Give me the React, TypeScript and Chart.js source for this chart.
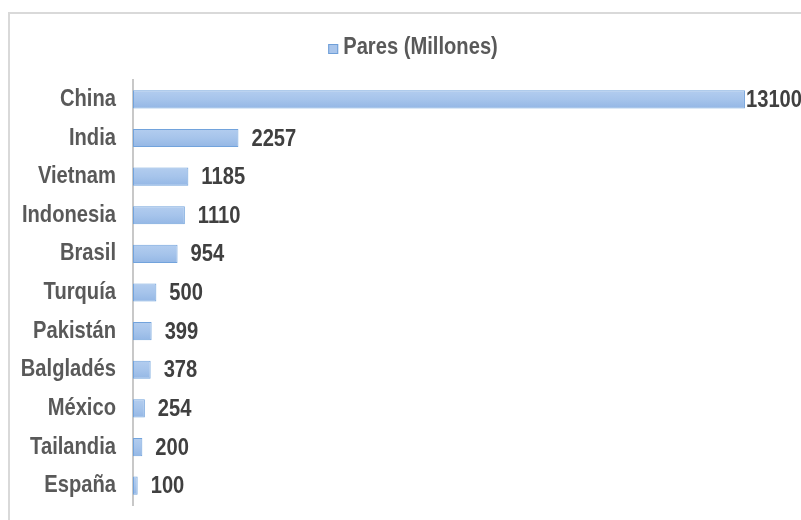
import React, { useEffect, useRef } from "react";
import { Chart, registerables } from "chart.js";

Chart.register(...registerables);

const categories = ["China", "India", "Vietnam", "Indonesia", "Brasil", "Turquía", "Pakistán", "Balgladés", "México", "Tailandia", "España"];
const values = [13100, 2257, 1185, 1110, 954, 500, 399, 378, 254, 200, 100];
const seriesName = "Pares (Millones)";

const FONT = "'Liberation Sans', Arial, sans-serif";
const SQUEEZE = 0.84;

function narrowText(ctx: CanvasRenderingContext2D, txt: string, x: number, y: number, align: "left" | "right") {
  const w = ctx.measureText(txt).width * SQUEEZE;
  const left = align === "left" ? x : x - w;
  ctx.save();
  ctx.translate(left, y);
  ctx.scale(SQUEEZE, 1);
  ctx.textAlign = "left";
  ctx.fillText(txt, 0, 0);
  ctx.restore();
  return w;
}

export default function App() {
  const ref = useRef<HTMLCanvasElement>(null);
  useEffect(() => {
    const canvas = ref.current!;
    const barFrac = 0.47;
    const grad = (c: any) => {
      const chart = c.chart;
      const ys = chart.scales?.y;
      if (!ys || typeof c.dataIndex !== "number") return "#a7c4ea";
      const yc = ys.getPixelForValue(c.dataIndex);
      const h = ((ys.bottom - ys.top) / categories.length) * barFrac;
      if (!isFinite(yc) || !isFinite(h) || h <= 0) return "#a7c4ea";
      const g = chart.ctx.createLinearGradient(0, yc - h / 2, 0, yc + h / 2);
      g.addColorStop(0, "#b3cdef");
      g.addColorStop(0.5, "#a6c4eb");
      g.addColorStop(1, "#94b7e5");
      return g;
    };
    const deco = {
      id: "deco",
      beforeDraw(chart: any) {
        const ctx = chart.ctx;
        ctx.save();
        ctx.fillStyle = "#ffffff";
        ctx.fillRect(0, 0, chart.width, chart.height);
        ctx.strokeStyle = "#d9d9d9";
        ctx.lineWidth = 2;
        ctx.beginPath();
        ctx.moveTo(9, chart.height);
        ctx.lineTo(9, 13);
        ctx.lineTo(chart.width, 13);
        ctx.stroke();
        // legend
        ctx.font = `bold 24px ${FONT}`;
        ctx.textBaseline = "middle";
        const tw = ctx.measureText(seriesName).width * SQUEEZE;
        const box = 10;
        const gap = 5;
        const total = box + gap + tw;
        const x0 = 413 - total / 2;
        const yMid = 47;
        ctx.fillStyle = "#a9c5eb";
        ctx.fillRect(x0, 44, box, box);
        ctx.strokeStyle = "#6f9fd8";
        ctx.lineWidth = 1;
        ctx.strokeRect(x0 + 0.5, 44.5, box - 1, box - 1);
        ctx.fillStyle = "#595959";
        narrowText(ctx, seriesName, x0 + box + gap, yMid, "left");
        ctx.restore();
      },
      afterDatasetsDraw(chart: any) {
        const ctx = chart.ctx;
        const meta = chart.getDatasetMeta(0);
        const ys = chart.scales.y;
        ctx.save();
        ctx.font = `bold 24px ${FONT}`;
        ctx.textBaseline = "middle";
        // category labels
        ctx.fillStyle = "#595959";
        categories.forEach((c, i) => {
          narrowText(ctx, c, ys.right - 17, ys.getPixelForValue(i), "right");
        });
        // data labels
        ctx.fillStyle = "#404040";
        meta.data.forEach((bar: any, i: number) => {
          const txt = String(values[i]);
          const w = ctx.measureText(txt).width * SQUEEZE;
          let x = bar.x + 13;
          if (x + w > chart.width) x = bar.x + 1;
          narrowText(ctx, txt, x, bar.y + 1, "left");
        });
        ctx.restore();
      },
    };
    const chart = new Chart(canvas, {
      type: "bar",
      data: {
        labels: categories,
        datasets: [
          {
            label: seriesName,
            data: values,
            backgroundColor: grad as any,
            borderColor: "#72a3dc",
            borderWidth: 1,
            borderSkipped: false,
            barPercentage: barFrac,
            categoryPercentage: 1,
          },
        ],
      },
      options: {
        indexAxis: "y",
        animation: false,
        responsive: true,
        maintainAspectRatio: false,
        layout: { padding: { top: 80, bottom: 15, right: 14, left: 0 } },
        plugins: { legend: { display: false }, tooltip: { enabled: false } },
        scales: {
          x: { display: false, min: 0, max: 14000 },
          y: {
            afterFit(scale: any) {
              scale.width = 133;
            },
            grid: { display: false, drawTicks: false },
            border: { display: true, color: "#c8c8c8", width: 2 },
            ticks: { display: false },
          },
        },
      },
      plugins: [deco],
    });
    return () => chart.destroy();
  }, []);
  return (
    <div style={{ position: "absolute", left: 0, top: 0, width: 801, height: 520 }}>
      <canvas ref={ref} />
    </div>
  );
}
